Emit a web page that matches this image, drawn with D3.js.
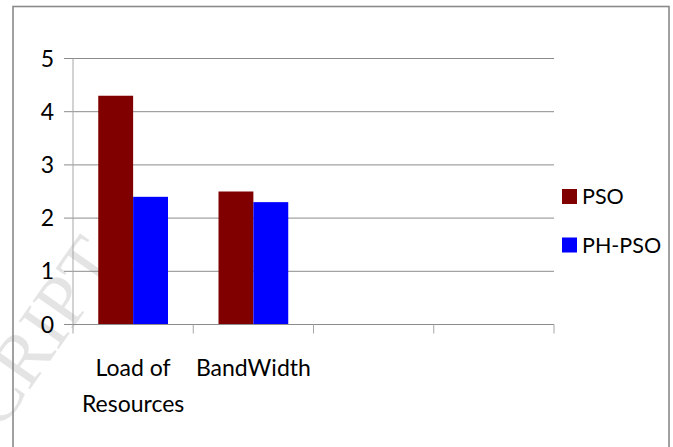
<!DOCTYPE html>
<html>
<head>
<meta charset="utf-8">
<script src="https://cdn.jsdelivr.net/npm/d3@7"></script>
<style>
  html, body { margin: 0; padding: 0; background: #fff; }
  svg text { font-family: Lato, "Open Sans", sans-serif; fill: #000; }
</style>
</head>
<body>
<div class="chart"></div>
<script>
// data
const categories = [["Load of", "Resources"], ["BandWidth"], [""], [""]];
const series = ["PSO", "PH-PSO"];
const psoValues = [4.3, 2.5, null, null];
const phPsoValues = [2.4, 2.3, null, null];
const yTicks = [0, 1, 2, 3, 4, 5];
const colors = ["#800000", "#0000ff"];

const W = 673, H = 447;
const plot = { left: 73, right: 554, top: 58.5, bottom: 324.5 };

const svg = d3.select("div.chart").append("svg")
    .attr("width", W)
    .attr("height", H);

svg.append("rect").attr("width", W).attr("height", H).attr("fill", "#fff");

// faint watermark left over from the source page
svg.append("text")
    .attr("transform", "translate(66,222) rotate(-55)")
    .attr("text-anchor", "end")
    .style("font-family", "'Liberation Serif', 'DejaVu Serif', serif")
    .style("font-size", "74px")
    .style("fill", "#dedede")
    .style("opacity", 0.8)
    .attr("dy", "0.9em")
    .text("CRIPT");

// chart border
svg.append("rect")
    .attr("x", 13).attr("y", 6.5)
    .attr("width", 656).attr("height", 460)
    .attr("fill", "none")
    .attr("stroke", "#8a8a8a")
    .attr("stroke-width", 1.6);

const idx = d3.range(categories.length);
const x0 = d3.scaleBand().domain(idx).range([plot.left, plot.right]).padding(0);
const gap = x0.bandwidth() * 0.21;
const x1 = d3.scaleBand().domain(series).range([gap, x0.bandwidth() - gap]).padding(0);
const y = d3.scaleLinear().domain([0, 5]).range([plot.bottom, plot.top]);

// gridlines with left tick stubs
svg.append("g").selectAll("line")
    .data(yTicks.filter(t => t > 0))
    .join("line")
    .attr("x1", plot.left - 9).attr("x2", plot.right)
    .attr("y1", d => y(d)).attr("y2", d => y(d))
    .attr("stroke", "#8c8c8c").attr("stroke-width", 1);

// y axis
svg.append("line")
    .attr("x1", plot.left).attr("x2", plot.left)
    .attr("y1", plot.top).attr("y2", plot.bottom)
    .attr("stroke", "#a6a6a6").attr("stroke-width", 1);

// bars
const valuesBySeries = [psoValues, phPsoValues];
const barData = [];
idx.forEach(i => series.forEach((s, k) => {
    if (valuesBySeries[k][i] != null) barData.push({ i, s, k, v: valuesBySeries[k][i] });
}));

svg.append("g").selectAll("rect")
    .data(barData)
    .join("rect")
    .attr("x", d => x0(d.i) + x1(d.s))
    .attr("width", x1.bandwidth())
    .attr("y", d => y(d.v))
    .attr("height", d => y(0) - y(d.v))
    .attr("fill", d => colors[d.k]);

// x axis line + category ticks
svg.append("line")
    .attr("x1", plot.left - 9).attr("x2", plot.right)
    .attr("y1", y(0)).attr("y2", y(0))
    .attr("stroke", "#8c8c8c").attr("stroke-width", 1);

svg.append("g").selectAll("line")
    .data(idx.concat([categories.length]))
    .join("line")
    .attr("x1", d => d < categories.length ? x0(d) : plot.right)
    .attr("x2", d => d < categories.length ? x0(d) : plot.right)
    .attr("y1", y(0)).attr("y2", y(0) + 9)
    .attr("stroke", "#a6a6a6").attr("stroke-width", 1);

// y tick labels
svg.append("g").selectAll("text")
    .data(yTicks)
    .join("text")
    .attr("x", plot.left - 19)
    .attr("y", d => y(d) + 8)
    .attr("text-anchor", "end")
    .style("font-size", "23px")
    .text(d => d);

// category labels (wrapped)
const catLabels = svg.append("g").selectAll("text")
    .data(idx)
    .join("text")
    .attr("text-anchor", "middle")
    .style("font-size", "23px");

catLabels.selectAll("tspan")
    .data(i => categories[i].map(line => ({ i, line })))
    .join("tspan")
    .attr("x", d => x0(d.i) + x0.bandwidth() / 2)
    .attr("y", (d, j) => 376 + j * 36)
    .text(d => d.line);

// legend
const legend = svg.append("g").selectAll("g")
    .data(series)
    .join("g")
    .attr("transform", (d, k) => `translate(562, ${189 + k * 48.5})`);

legend.append("rect")
    .attr("width", 15).attr("height", 15)
    .attr("fill", (d, k) => colors[k]);

legend.append("text")
    .attr("x", 20).attr("y", 15)
    .style("font-size", "21.5px")
    .text(d => d);
</script>
</body>
</html>
